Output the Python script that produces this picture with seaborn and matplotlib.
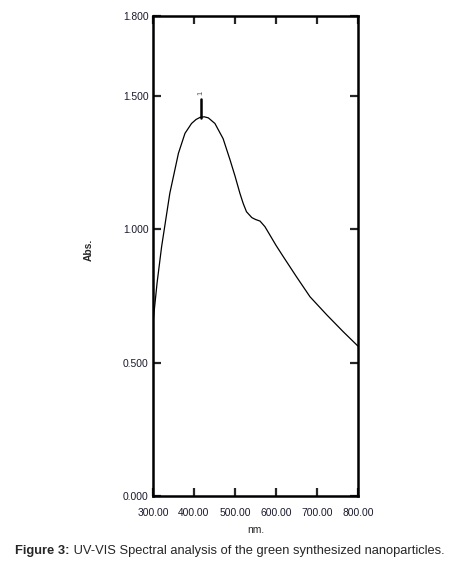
import matplotlib
matplotlib.use("Agg")
import matplotlib.pyplot as plt
import seaborn as sns
import pandas as pd

# Data
wavelength = [300, 310, 321, 341, 362, 378, 394, 405, 415, 425, 435, 451, 471, 488,
              500, 512, 520, 528, 541, 550, 561, 573, 585, 600, 618, 650, 683, 724,
              764, 800]
absorbance = [0.65, 0.80, 0.935, 1.135, 1.285, 1.36, 1.397, 1.412, 1.42, 1.422, 1.418,
              1.397, 1.34, 1.26, 1.20, 1.135, 1.097, 1.066, 1.044, 1.037, 1.031, 1.01,
              0.979, 0.94, 0.897, 0.822, 0.747, 0.679, 0.616, 0.562]
peak_wl = 418
peak_abs = [1.416, 1.488]
peak_label = "1"
x_ticks = [300, 400, 500, 600, 700, 800]
y_ticks = [0.0, 0.5, 1.0, 1.5, 1.8]

sns.set_style("white")
plt.rcParams['font.family'] = ['Liberation Sans', 'DejaVu Sans']

df = pd.DataFrame({"nm": wavelength, "Abs": absorbance})

fig = plt.figure(figsize=(4.57, 5.64), dpi=100)
ax = fig.add_axes([153/457, 1-496/564, 205/457, 480/564])

sns.lineplot(data=df, x="nm", y="Abs", ax=ax, color="black", linewidth=0.9)
ax.plot([peak_wl, peak_wl], peak_abs, color="black", linewidth=1.8)
ax.text(peak_wl, peak_abs[1] + 0.015, peak_label, rotation=90, ha="center", va="bottom",
        fontsize=5.5, color="#555555")

ax.set_xlim(300, 800)
ax.set_ylim(0, 1.8)
ax.set_xticks(x_ticks)
ax.set_yticks(y_ticks)
ax.set_xticklabels([f"{v:.2f}" for v in x_ticks], fontsize=7.4, color="#1a1a2e")
ax.set_yticklabels([f"{v:.3f}" for v in y_ticks], fontsize=7.4, color="#1a1a2e")
ax.tick_params(axis="x", direction="in", length=6, width=1.6, bottom=True, top=True, pad=9)
ax.tick_params(axis="y", direction="in", length=6, width=1.6, left=True, right=True, pad=3)
for s in ax.spines.values():
    s.set_linewidth(1.8)
    s.set_color("black")
ax.set_xlabel("nm.", fontsize=7.4, va="center")
ax.set_ylabel("Abs.", fontsize=7.4, fontweight="bold", va="center")
ax.xaxis.set_label_coords((256-153)/205, (496-530)/480)
ax.yaxis.set_label_coords((89-153)/205, (496-250)/480)
ax.grid(False)

t1 = fig.text(15/457, 1-551/564, "Figure 3:", fontsize=9.3, fontweight="bold",
              va="center", ha="left")
ax.annotate(" UV-VIS Spectral analysis of the green synthesized nanoparticles.",
            xy=(1, 0), xycoords=t1, va="bottom", ha="left", fontsize=9.3)

fig.savefig("out.png", dpi=100)
